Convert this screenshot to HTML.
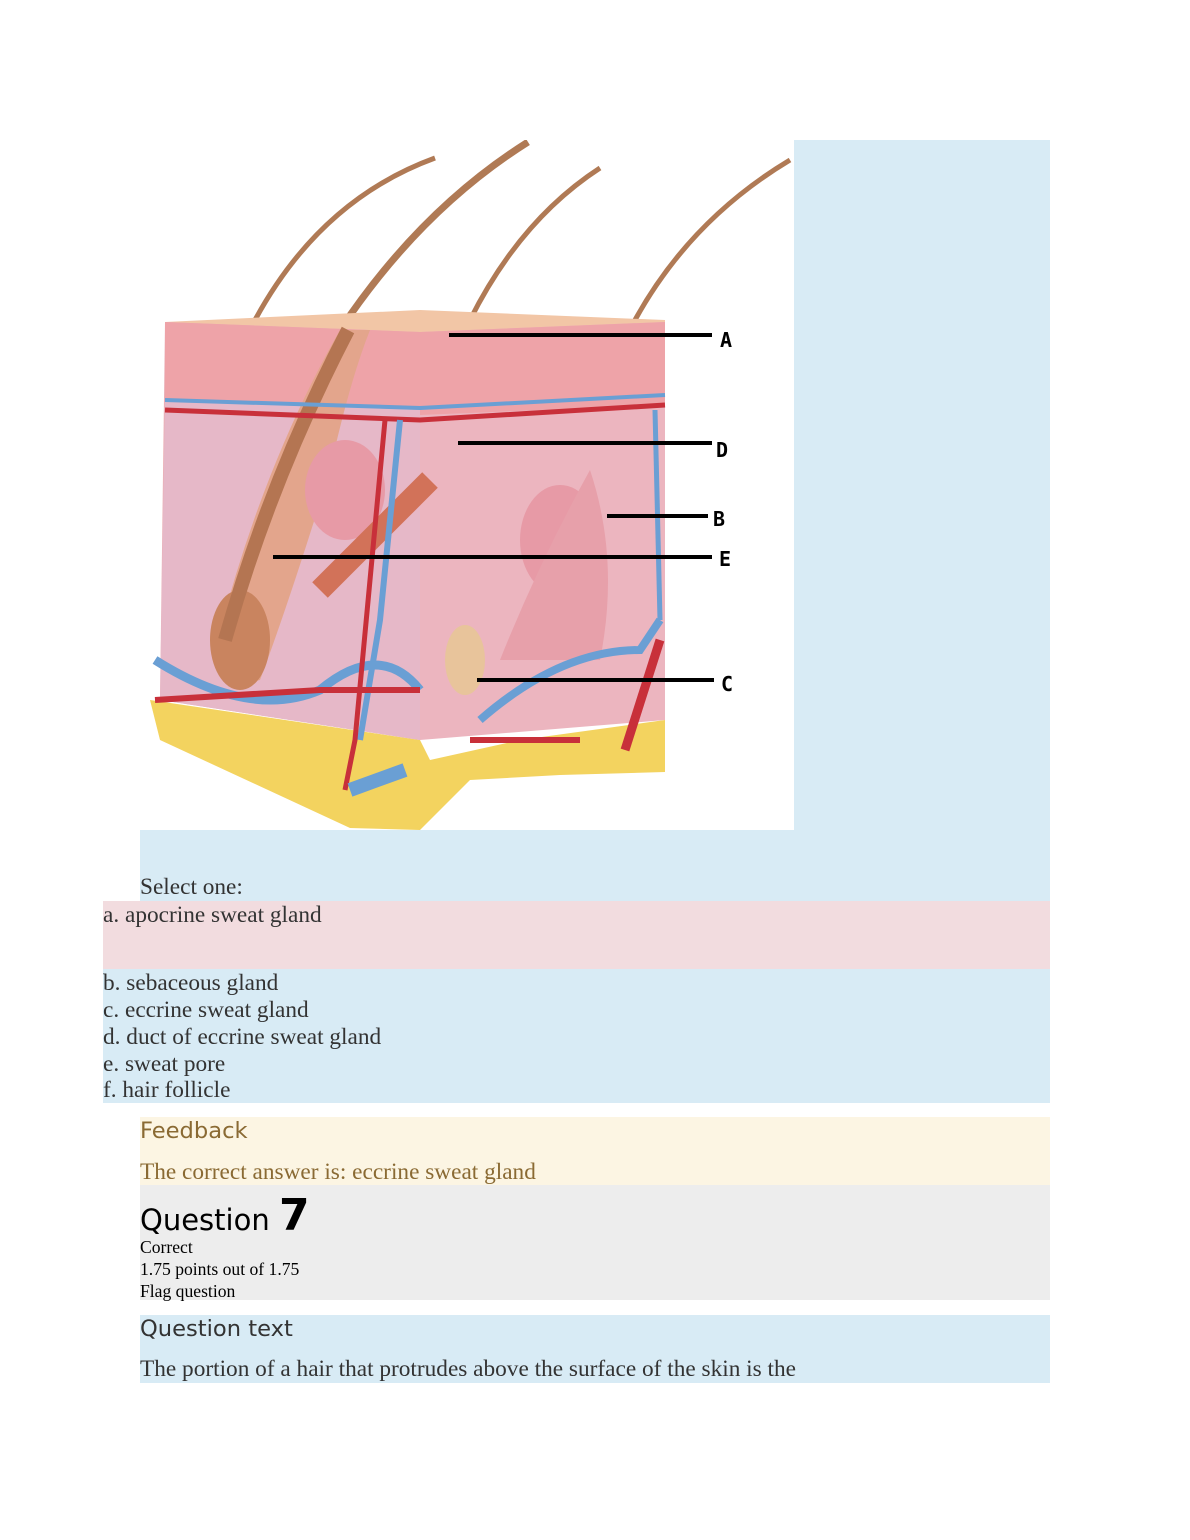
<!DOCTYPE html>
<html><head><meta charset="utf-8"><style>
body{margin:0;width:1190px;height:1540px;background:#fff;position:relative;overflow:hidden;font-family:"Liberation Serif",serif;}
.b{position:absolute}
.t{position:absolute;white-space:nowrap;color:#333;font-size:23.3px;line-height:27px}
.h{font-family:"DejaVu Sans","Liberation Sans",sans-serif;font-size:22.6px}
</style></head><body>
<div class="b" style="left:140px;top:140px;width:910px;height:761px;background:#d8ebf5"></div>
<div class="b" style="left:140px;top:140px;width:654px;height:690px;background:#fff"></div>
<svg class="b" style="left:140px;top:140px" width="654" height="690" viewBox="140 140 654 690">
<path d="M255 320 Q320 200 435 158" stroke="#b07a55" stroke-width="5" fill="none"/>
<path d="M470 320 Q520 220 600 168" stroke="#b07a55" stroke-width="5" fill="none"/>
<path d="M635 320 Q690 220 790 160" stroke="#b07a55" stroke-width="5" fill="none"/>
<path d="M340 330 Q420 210 528 142" stroke="#b07a55" stroke-width="7" fill="none"/>
<polygon points="165,322 420,310 665,320 665,330 420,342 165,330" fill="#f2c6a6"/>
<path d="M150 700 L420 740 L430 760 L520 740 L665 720 L665 772 L560 775 L470 780 L420 830 L350 828 L160 740 Z" fill="#f3d35f"/>
<polygon points="165,322 420,332 420,740 160,700" fill="#eab0b7"/>
<polygon points="165,322 420,332 420,410 165,400" fill="#eea3a8"/>
<polygon points="165,400 420,410 420,740 160,700" fill="#e6b8c8"/>
<polygon points="420,332 665,322 665,720 420,740" fill="#ecb5bf"/>
<polygon points="420,332 665,322 665,405 420,415" fill="#eea3a8"/>
<path d="M340 330 Q260 470 215 650 Q225 690 260 680 Q290 600 330 470 Q350 380 370 330 Z" fill="#e3a58c"/>
<ellipse cx="240" cy="640" rx="30" ry="50" fill="#c9845f"/>
<path d="M348 330 Q270 480 225 640" stroke="#b47552" stroke-width="14" fill="none"/>
<ellipse cx="345" cy="490" rx="40" ry="50" fill="#e79aa6"/>
<ellipse cx="560" cy="540" rx="40" ry="55" fill="#e79aa6"/>
<path d="M500 660 Q540 560 590 470 Q620 560 600 660 Z" fill="#e7a0aa"/>
<path d="M320 590 L430 480" stroke="#d27259" stroke-width="22"/>
<path d="M165 410 L420 420 L665 405" stroke="#c8303a" stroke-width="5" fill="none"/>
<path d="M165 400 L420 408 L665 395" stroke="#6a9fd4" stroke-width="4" fill="none"/>
<path d="M155 660 Q250 720 320 690 Q380 640 420 690" stroke="#6a9fd4" stroke-width="9" fill="none"/>
<path d="M400 420 L380 620 L360 740" stroke="#6a9fd4" stroke-width="6" fill="none"/>
<path d="M385 420 L355 740 L345 790" stroke="#c8303a" stroke-width="5" fill="none"/>
<path d="M155 700 L320 690 L420 690" stroke="#c8303a" stroke-width="6" fill="none"/>
<path d="M480 720 Q560 650 640 650 L660 620" stroke="#6a9fd4" stroke-width="8" fill="none"/>
<path d="M655 410 L660 620" stroke="#6a9fd4" stroke-width="5" fill="none"/>
<path d="M660 640 L625 750" stroke="#c8303a" stroke-width="9" fill="none"/>
<path d="M470 740 L580 740" stroke="#c8303a" stroke-width="6" fill="none"/>
<path d="M405 770 L350 790" stroke="#6a9fd4" stroke-width="14" fill="none"/>
<ellipse cx="465" cy="660" rx="20" ry="35" fill="#e8c49b"/>
<g stroke="#000" stroke-width="4">
<line x1="449" y1="335" x2="712" y2="335"/>
<line x1="458" y1="443" x2="712" y2="443"/>
<line x1="607" y1="516" x2="708" y2="516"/>
<line x1="273" y1="557" x2="712" y2="557"/>
<line x1="477" y1="680" x2="714" y2="680"/>
</g>
<g font-family="DejaVu Sans Mono,Liberation Mono,monospace" font-weight="bold" font-size="20">
<text x="720" y="347">A</text><text x="716" y="457">D</text><text x="713" y="526">B</text><text x="719" y="566">E</text><text x="721" y="691">C</text>
</g>
</svg>
<div class="t" style="left:140px;top:874px">Select one:</div>
<div class="b" style="left:103px;top:901px;width:947px;height:68px;background:#f2dcdf"></div>
<div class="b" style="left:103px;top:969px;width:947px;height:134px;background:#d8ebf5"></div>
<div class="t" style="left:103px;top:902px">a. apocrine sweat gland</div>
<div class="t" style="left:103px;top:970px">b. sebaceous gland</div>
<div class="t" style="left:103px;top:997px">c. eccrine sweat gland</div>
<div class="t" style="left:103px;top:1024px">d. duct of eccrine sweat gland</div>
<div class="t" style="left:103px;top:1051px">e. sweat pore</div>
<div class="t" style="left:103px;top:1077px">f. hair follicle</div>
<div class="b" style="left:140px;top:1117px;width:910px;height:68px;background:#fcf5e3"></div>
<div class="t h" style="left:140px;top:1118px;color:#8a6a33">Feedback</div>
<div class="t" style="left:140px;top:1159px;color:#8a6a33">The correct answer is: eccrine sweat gland</div>
<div class="b" style="left:140px;top:1185px;width:910px;height:115px;background:#ededed"></div>
<div class="t h" style="left:140px;top:1196px;color:#000;font-size:29px;line-height:40px">Question <span style="font-size:44px;font-weight:bold">7</span></div>
<div class="t" style="left:140px;top:1236px;color:#000;font-size:17.6px;line-height:22px">Correct<br>1.75 points out of 1.75<br>Flag question</div>
<div class="b" style="left:140px;top:1315px;width:910px;height:68px;background:#d8ebf5"></div>
<div class="t h" style="left:140px;top:1316px">Question text</div>
<div class="t" style="left:140px;top:1356px">The portion of a hair that protrudes above the surface of the skin is the</div>
</body></html>
